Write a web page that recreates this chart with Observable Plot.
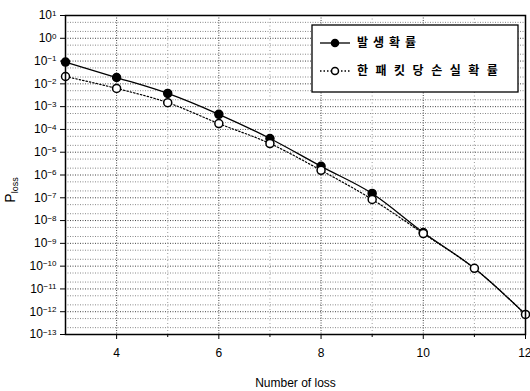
<!DOCTYPE html>
<html><head><meta charset="utf-8">
<script src="https://cdn.jsdelivr.net/npm/d3@7"></script>
<script src="https://cdn.jsdelivr.net/npm/@observablehq/plot@0.6"></script>
<style>body{margin:0;background:#fff;} svg{font-family:"Liberation Sans",Arial,sans-serif;}</style>
</head><body><div id="chart"></div>
<script>
const lossCount = [3,4,5,6,7,8,9,10,11,12];
const pOccur = [0.09, 0.019, 0.0038, 4.6e-4, 4.0e-5, 2.4e-6, 1.55e-7, 3.0e-9, 8e-11, 7.6e-13];
const pLossPkt = [0.021, 0.0063, 0.0015, 1.8e-4, 2.4e-5, 1.6e-6, 8.5e-8, 2.7e-9, 8e-11, 7.6e-13];
const seriesNames = ["발생확률", "한패킷당손실확률"];
const xTicks = [4,6,8,10,12];
const xMinorTicks = [5,7,9,11];
const yTicks = d3.range(-13, 2).map(e => Math.pow(10, e));
const yMinor = [];
for (let e = -13; e < 1; e++) for (const m of [2,5]) yMinor.push(m * Math.pow(10, e));

const occur = lossCount.map((x,i)=>({x, y:pOccur[i]}));
const loss = lossCount.map((x,i)=>({x, y:pLossPkt[i]}));

const svg = Plot.plot({
  width: 530, height: 391,
  marginLeft: 65, marginRight: 5, marginTop: 15, marginBottom: 57,
  style: {fontFamily: "Liberation Sans, Arial, sans-serif", fontSize: "12px", color: "#000"},
  x: {domain: [3,12]},
  y: {type: "log", domain: [1e-13, 10]},
  marks: [
    Plot.ruleY(yMinor, {stroke: "#888", strokeDasharray: "1,1.5", strokeWidth: 1}),
    Plot.ruleY(yTicks, {stroke: "#444", strokeDasharray: "1,1.5", strokeWidth: 1}),
    Plot.ruleX(xMinorTicks, {stroke: "#999", strokeDasharray: "1,2.5", strokeWidth: 1}),
    Plot.ruleX(xTicks, {stroke: "#444", strokeDasharray: "1,1.5", strokeWidth: 1}),
    Plot.axisY({ticks: yTicks, tickSize: 5, label: null, tickFormat: d => "10^" + Math.round(Math.log10(d))}),
    Plot.axisX({ticks: xTicks, tickSize: 5, tickPadding: 9, label: "Number of loss", labelAnchor: "center", labelOffset: 52, labelArrow: "none"}),
    Plot.axisX({ticks: xMinorTicks, tickSize: 3, tickFormat: () => "", label: null}),
    Plot.line(occur, {x: "x", y: "y", stroke: "#000", strokeWidth: 1.3, curve: "monotone-x"}),
    Plot.line(loss, {x: "x", y: "y", stroke: "#000", strokeWidth: 1.2, strokeDasharray: "1.5,2", curve: "monotone-x"}),
    Plot.dot(occur.filter(d => d.x <= 10), {x: "x", y: "y", r: 4, fill: "#000", stroke: "#000"}),
    Plot.dot(loss, {x: "x", y: "y", r: 4, fill: "#fff", stroke: "#000", strokeWidth: 1.5}),
    Plot.frame({stroke: "#000", strokeWidth: 1.5})
  ]
});

// superscript exponents on y tick labels
d3.select(svg).selectAll("[aria-label='y-axis tick label'] text").each(function() {
  const t = this.textContent;
  if (t.startsWith("10^")) {
    const e = t.slice(3).replace("-", "\u2212");
    const sel = d3.select(this);
    sel.text("10");
    sel.append("tspan").attr("dy", "-0.45em").attr("font-size", "8px").text(e);
  }
});
// keep the last x label inside the picture
d3.select(svg).selectAll("[aria-label='x-axis tick label'] text").each(function() {
  if (this.textContent === "12") d3.select(this).attr("text-anchor", "end").attr("dx", 6);
});

const root = d3.select(svg);
// y axis label P_loss
const yl = root.append("text")
  .attr("transform", "translate(15,190) rotate(-90)")
  .attr("text-anchor", "middle").attr("font-size", "14px").attr("fill", "#000");
yl.append("tspan").text("P");
yl.append("tspan").attr("dy", "0.35em").attr("font-size", "9px").text("loss");

// legend
const lg = root.append("g").attr("text-anchor", "start");
lg.append("rect").attr("x", 312).attr("y", 25).attr("width", 206).attr("height", 67)
  .attr("fill", "#fff").attr("stroke", "#000").attr("stroke-width", 1.3);
const rows = [
  {y: 43, dash: null, fill: "#000", name: seriesNames[0], ls: 5},
  {y: 71, dash: "1.5,2", fill: "#fff", name: seriesNames[1], ls: 7.5}
];
for (const r of rows) {
  const l = lg.append("line").attr("x1", 320).attr("x2", 350).attr("y1", r.y).attr("y2", r.y)
    .attr("stroke", "#000").attr("stroke-width", 1.3);
  if (r.dash) l.attr("stroke-dasharray", r.dash);
  lg.append("circle").attr("cx", 335).attr("cy", r.y).attr("r", 3.5).attr("fill", r.fill)
    .attr("stroke", "#000").attr("stroke-width", 1.5);
  lg.append("text").attr("x", 357).attr("y", r.y).attr("dy", "0.35em").attr("text-anchor", "start")
    .attr("font-family", "Noto Sans CJK KR").attr("font-weight", "bold").attr("font-size", "12px")
    .attr("letter-spacing", r.ls + "px").attr("fill", "#000").text(r.name);
}
document.getElementById("chart").append(svg);
</script></body></html>
